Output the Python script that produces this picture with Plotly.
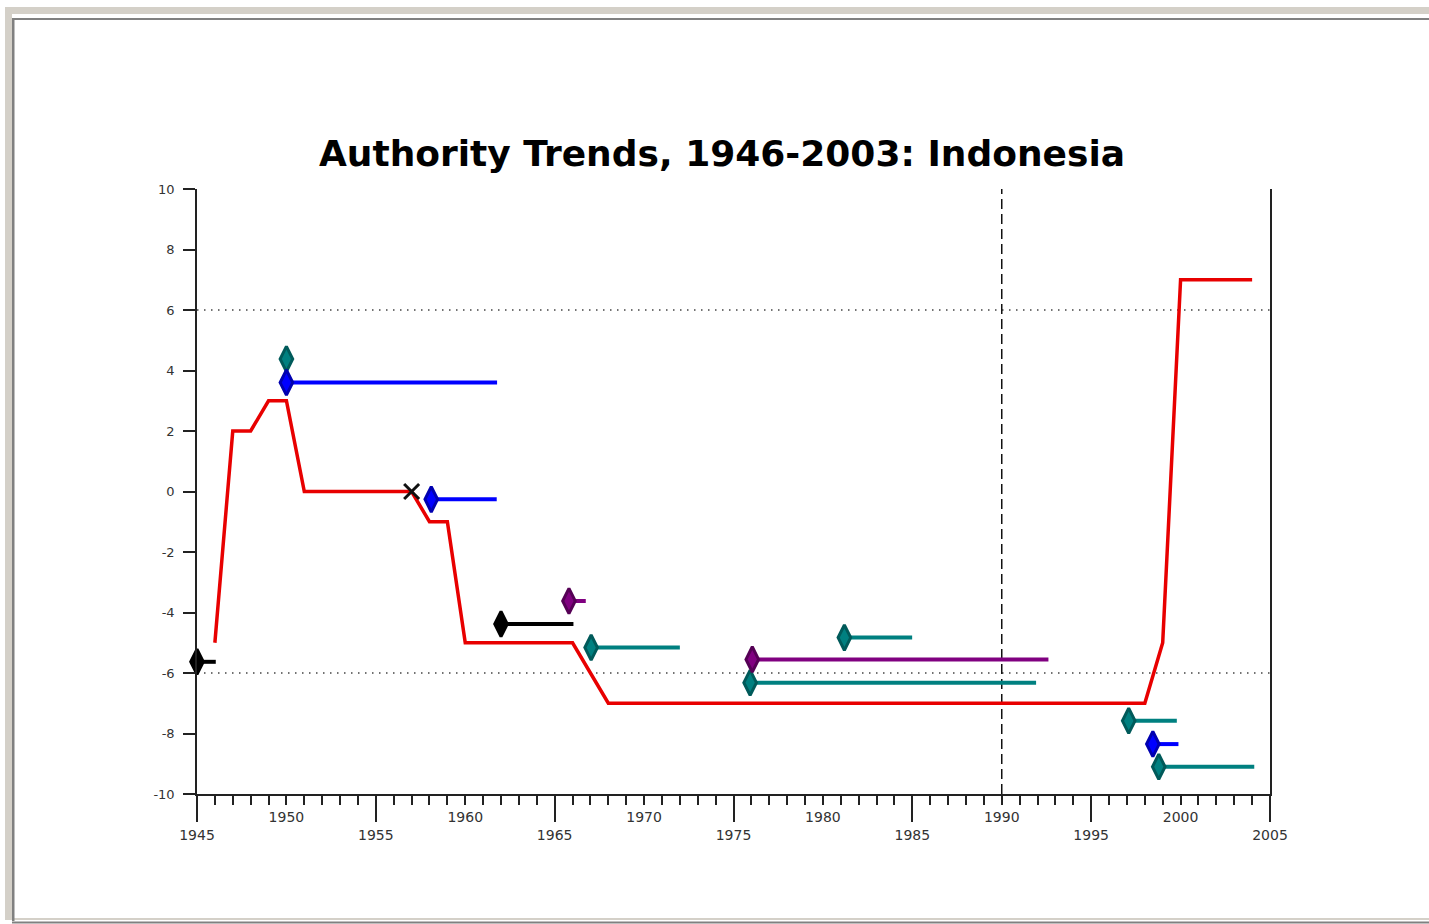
import plotly.graph_objects as go

# Polity score, annual 1946-2004 (transition years shown as interpolated values)
years = list(range(1946, 2005))
polity = (
    [-5, 2, 2, 3, 3]              # 1946-1950
    + [0] * 7                     # 1951-1957
    + [-1, -1]                    # 1958-1959
    + [-5] * 7                    # 1960-1966
    + [-6]                        # 1967
    + [-7] * 31                   # 1968-1998
    + [-5]                        # 1999
    + [7] * 5                     # 2000-2004
)

# Regime events: start year, level, end year (None = single point)
black_start = [1945.0, 1962.0]
black_level = [-5.63, -4.38]
black_end = [1946.05, 1966.05]

blue_start = [1950.0, 1958.1, 1998.45]
blue_level = [3.6, -0.26, -8.35]
blue_end = [1961.78, 1961.76, 1999.88]

purple_start = [1965.8, 1976.05]
purple_level = [-3.62, -5.55]
purple_end = [1966.74, 1992.61]

teal_start = [1950.0, 1967.04, 1981.2, 1975.93, 1997.1, 1998.78]
teal_level = [4.38, -5.16, -4.83, -6.32, -7.58, -9.1]
teal_end = [None, 1972.0, 1984.99, 1991.92, 1999.79, 2004.12]

# Regime change marker
x_year = [1957.0]
x_level = [0.0]

x_major_labels = ["1945", "1955", "1965", "1975", "1985", "1995", "2005"]
x_minor_labels = ["1950", "1960", "1970", "1980", "1990", "2000"]
y_ticks = [-10, -8, -6, -4, -2, 0, 2, 4, 6, 8, 10]

W, H = 1429, 924
L, R, T, B = 197, 1270, 189, 794

fig = go.Figure()

fig.add_trace(go.Scatter(
    x=years, y=polity, mode="lines",
    line=dict(color="rgb(232,0,0)", width=3.5),
    hoverinfo="skip"))


def add_events(starts, levels, ends, fill, edge):
    lx, ly = [], []
    for s, v, e in zip(starts, levels, ends):
        if e is not None:
            lx += [s, e, None]
            ly += [v, v, None]
    fig.add_trace(go.Scatter(x=lx, y=ly, mode="lines",
                             line=dict(color=fill, width=4),
                             hoverinfo="skip"))
    fig.add_trace(go.Scatter(x=starts, y=levels, mode="markers",
                             cliponaxis=False,
                             marker=dict(symbol="diamond-tall", size=18,
                                         color=fill,
                                         line=dict(color=edge, width=3)),
                             hoverinfo="skip"))


add_events(teal_start, teal_level, teal_end, "#008080", "#005a5a")
add_events(purple_start, purple_level, purple_end, "#800080", "#550055")
add_events(blue_start, blue_level, blue_end, "#0000ff", "#0000b0")
add_events(black_start, black_level, black_end, "#000000", "#000000")

fig.add_trace(go.Scatter(
    x=x_year, y=x_level, mode="markers",
    marker=dict(symbol="x-thin", size=15, color="#111",
                line=dict(color="#111", width=3)),
    hoverinfo="skip"))

# Reference levels and 1990 marker line
for lvl in (6, -6):
    fig.add_hline(y=lvl, line=dict(color="#444", width=1.5, dash="1.5px,5.5px"),
                  layer="below")
fig.add_vline(x=1990, line=dict(color="#111", width=1.5, dash="10px,5px"),
              layer="below")


# Window frame drawn around the page
def px_x(p):
    return (p - L) / (R - L)


def px_y(p):
    return (B - p) / (B - T)


frame = [
    (5, 7, W, 14, "#d4d0c8"),
    (5, 7, 12, 920, "#d4d0c8"),
    (5, 918, W, 920, "#d4d0c8"),
    (12, 18, W, 20, "#808080"),
    (12, 18, 14.5, 921, "#808080"),
    (12, 921.5, W, 923.5, "#808080"),
]
for x0, y0, x1, y1, c in frame:
    fig.add_shape(type="rect", xref="paper", yref="paper",
                  x0=px_x(x0), x1=px_x(x1), y0=px_y(y0), y1=px_y(y1),
                  fillcolor=c, line=dict(width=0), layer="above")

tick_font = dict(family="DejaVu Sans", size=14, color="#333")

fig.update_layout(
    width=W, height=H,
    margin=dict(l=L, r=W - R, t=T, b=H - B, pad=0),
    paper_bgcolor="white", plot_bgcolor="white",
    showlegend=False,
    title=dict(text="<b>Authority Trends, 1946-2003: Indonesia</b>",
               font=dict(family="DejaVu Sans", size=36, color="#000"),
               x=722 / W, xanchor="center", xref="container",
               y=1 - 153 / H, yanchor="middle", yref="container"),
    xaxis=dict(range=[1945, 2005], tickmode="array",
               tickvals=[int(v) for v in x_major_labels], ticktext=x_major_labels,
               ticks="outside", ticklen=26, tickwidth=1.5, tickcolor="#222",
               showline=True, linewidth=1.5, linecolor="#222",
               showgrid=False, zeroline=False, tickfont=tick_font,
               ticklabelstandoff=1,
               minor=dict(tick0=1945, dtick=1, ticks="outside", ticklen=9,
                          tickwidth=1.5, tickcolor="#222", showgrid=False)),
    xaxis2=dict(range=[1945, 2005], overlaying="x", anchor="y", side="bottom",
                tickmode="array",
                tickvals=[int(v) for v in x_minor_labels], ticktext=x_minor_labels,
                ticks="outside", ticklen=9, tickwidth=1.5, tickcolor="#222",
                showline=False, showgrid=False, zeroline=False,
                tickfont=tick_font, ticklabelstandoff=1),
    yaxis=dict(range=[-10, 10], tickmode="array", tickvals=y_ticks,
               ticktext=[str(v) for v in y_ticks],
               ticks="outside", ticklen=12, tickwidth=1.5, tickcolor="#222",
               showline=True, linewidth=1.5, linecolor="#222", mirror=True,
               showgrid=False, zeroline=False,
               tickfont=dict(family="DejaVu Sans", size=13, color="#333"),
               ticklabelstandoff=6),
)

# Dummy trace so the second x-axis is rendered
fig.add_trace(go.Scatter(x=[1945], y=[-10], xaxis="x2", mode="markers",
                         marker=dict(opacity=0), hoverinfo="skip"))

fig.write_html("out.html")
